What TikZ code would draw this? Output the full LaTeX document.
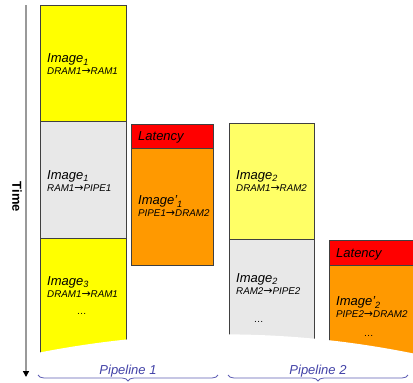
\documentclass[tikz,border=0pt]{standalone}
\usepackage{fontspec}
\setmainfont{Liberation Sans}
\newfontfamily\arrowfont{DejaVu Sans}
\usetikzlibrary{arrows.meta, positioning, decorations.pathreplacing}
\definecolor{imgyellow}{HTML}{FFFF00}
\definecolor{imglight}{HTML}{FFFF66}
\definecolor{imggray}{HTML}{E8E8E8}
\definecolor{latred}{HTML}{FF0000}
\definecolor{imgorange}{HTML}{FF9900}
\definecolor{pipeblue}{HTML}{4343A8}
\newcommand{\imgname}[1]{{\fontsize{13}{14}\selectfont Image\textsubscript{#1}}}
\newcommand{\outname}[1]{{\fontsize{13}{14}\selectfont Image'\textsubscript{#1}}}
\newcommand{\toarr}{{\arrowfont\upshape\fontsize{11}{12}\selectfont →}}

\begin{document}
\begin{tikzpicture}[x=1pt, y=-1pt,
    box/.style={rectangle, draw=black!75, line width=0.7pt, inner sep=0pt,
                outer sep=0pt, minimum width=86pt},
    lat/.style={box, fill=latred, minimum height=24pt},
    lbl/.style={anchor=west, inner sep=0pt, align=left,
                font=\fontsize{9.8}{12}\selectfont\itshape},
    latlbl/.style={anchor=west, inner sep=0pt, font=\fontsize{13}{14}\selectfont\itshape},
    pipe/.style={anchor=base, inner sep=0pt, text=pipeblue,
                 font=\fontsize{13}{15}\selectfont\itshape},
    brc/.style={decorate, decoration={brace, mirror, amplitude=6pt},
                draw=pipeblue!85, line width=0.8pt},
    axis/.style={draw=black!40, line width=2pt,
                 -{Triangle[length=6pt, width=6pt, color=black]}}
  ]
  \useasboundingbox (0,0) rectangle (413,383);

  % Pipeline 1
  \node[box, fill=imgyellow, minimum height=116pt, anchor=north west] (img1a) at (40,5) {};
  \node[box, fill=imggray, minimum height=117pt, below=0pt of img1a] (img1b) {};
  \node[box, fill=imgyellow, minimum height=118pt, below=0pt of img1b] (img3a) {};
  \node[lat, minimum width=82pt, anchor=north west] (lat1) at (131,124) {};
  \node[box, fill=imgorange, minimum width=82pt, minimum height=117pt, below=0pt of lat1] (out1) {};

  % Pipeline 2
  \node[box, fill=imglight, minimum width=85pt, minimum height=116pt, anchor=north west] (img2a) at (229,123) {};
  \node[box, fill=imggray, minimum width=85pt, minimum height=118pt, below=0pt of img2a] (img2b) {};
  \node[lat, minimum width=88pt, minimum height=25pt, anchor=north west] (lat2) at (329,240) {};
  \node[box, fill=imgorange, minimum width=88pt, minimum height=102pt, below=0pt of lat2] (out2) {};

  % Labels
  \node[lbl, yshift=-1.4pt] (t1a) at ([xshift=7pt]img1a.west) {\imgname{1}\\DRAM1\toarr RAM1};
  \node[lbl, yshift=-1.8pt] (t1b) at ([xshift=7pt]img1b.west) {\imgname{1}\\RAM1\toarr PIPE1};
  \node[lbl, yshift=1.6pt] (t3a) at ([xshift=7pt]img3a.west) {\imgname{3}\\DRAM1\toarr RAM1\\[5pt]\hspace*{30pt}\ldots};
  \node[latlbl, yshift=-1.5pt] (l1) at ([xshift=7pt]lat1.west) {Latency};
  \node[lbl] (o1) at ([xshift=7pt]out1.west) {\outname{1}\\PIPE1\toarr DRAM2};
  \node[lbl] (t2a) at ([xshift=7pt]img2a.west) {\imgname{2}\\DRAM1\toarr RAM2};
  \node[lbl] (t2b) at ([xshift=7pt]img2b.west) {\imgname{2}\\RAM2\toarr PIPE2\\[16pt]\hspace*{18pt}\ldots};
  \node[latlbl, yshift=-2pt] (l2) at ([xshift=7pt]lat2.west) {Latency};
  \node[lbl, yshift=-1pt] (o2) at ([xshift=7pt]out2.west) {\outname{2}\\PIPE2\toarr DRAM2\\[7pt]\hspace*{28pt}\ldots};

  % torn bottom edge
  \fill[white] (37,353) .. controls (164,328) and (289,328) .. (416,354)
    -- (416,390) -- (37,390) -- cycle;

  % Time axis
  \coordinate (ttop) at (26,5);
  \coordinate (tbot) at (26,377);
  \draw[axis] (ttop) -- (tbot);
  \node[rotate=-90, font=\fontsize{13}{14}\selectfont\bfseries] (time) at (17,197) {Time};

  % Pipelines
  \coordinate (b1l) at (38,375);
  \coordinate (b1r) at (218,375);
  \coordinate (b2l) at (228,375);
  \coordinate (b2r) at (408,375);
  \draw[brc] (b1l) -- (b1r);
  \draw[brc] (b2l) -- (b2r);
  \node[pipe] (p1) at (128,374) {Pipeline 1};
  \node[pipe] (p2) at (318,374) {Pipeline 2};
\end{tikzpicture}
\end{document}
